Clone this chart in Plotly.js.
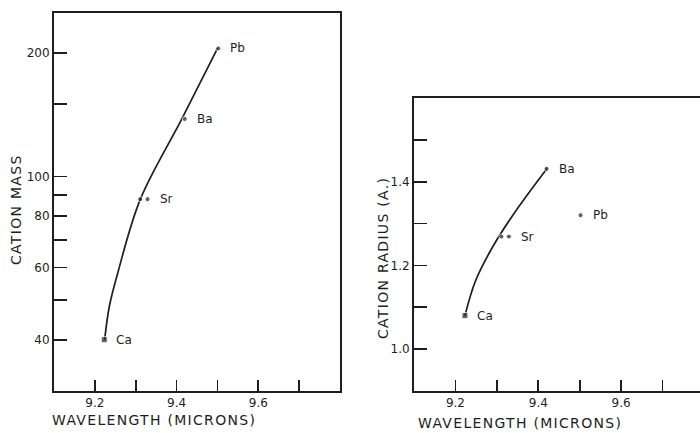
<!DOCTYPE html>
<html>
<head>
<meta charset="utf-8">
<script src="https://cdn.plot.ly/plotly-3.0.1.min.js"></script>
<style>
  html, body { margin: 0; padding: 0; overflow: hidden; background: #fff; }
</style>
</head>
<body>
<div id="chart"></div>
<script>
// ---- data ----
const elements      = ['Ca', '', 'Sr', 'Ba', 'Pb'];
const wavelength    = [9.223, 9.311, 9.329, 9.420, 9.502];
const cationMass    = [40, 88, 88, 138, 205];
const cationRadius  = [1.08, 1.269, 1.269, 1.431, 1.32];

// smooth curves as traced on the figure
const massCurveX   = [9.224, 9.2354, 9.2559, 9.3114, 9.4129, 9.5002];
const massCurveY   = [40, 48.2, 58.1, 88, 138, 205];
const radiusCurveX = [9.223, 9.2479, 9.2883, 9.3394, 9.4207];
const radiusCurveY = [1.08, 1.1617, 1.2416, 1.3213, 1.431];

// ticks
const xTickVals    = [9.2, 9.3, 9.4, 9.5, 9.6, 9.7];
const xTickText    = ['9.2', '', '9.4', '', '9.6', ''];
const massTickVals = [40, 50, 60, 70, 80, 90, 100, 150, 200];
const massTickText = ['40', '', '60', '', '80', '', '100', '', '200'];
const radTickVals  = [1.0, 1.1, 1.2, 1.3, 1.4, 1.5];
const radTickText  = ['1.0', '', '1.2', '', '1.4', ''];

// ---- layout helpers ----
const W = 704, H = 433;
const ink = '#1e1e1e';
const font = 'DejaVu Sans, Liberation Sans, sans-serif';
const px = x => x / W;
const py = y => 1 - y / H;
const spaced = s => '<span style="letter-spacing:1.3px">' + s + '</span>';

const markerSymbols = elements.map((e, i) => i === 0 ? 'square' : 'circle');
const markerSizes   = elements.map((e, i) => i === 0 ? 6 : 5);

const traces = [
  { x: massCurveX, y: massCurveY, xaxis: 'x', yaxis: 'y', mode: 'lines',
    line: { color: ink, width: 1.7, shape: 'spline', smoothing: 1 }, hoverinfo: 'skip' },
  { x: wavelength, y: cationMass, xaxis: 'x', yaxis: 'y', mode: 'markers',
    marker: { color: ink, size: markerSizes, symbol: markerSymbols } },
  { x: radiusCurveX, y: radiusCurveY, xaxis: 'x2', yaxis: 'y2', mode: 'lines',
    line: { color: ink, width: 1.7, shape: 'spline', smoothing: 1 }, hoverinfo: 'skip' },
  { x: wavelength, y: cationRadius, xaxis: 'x2', yaxis: 'y2', mode: 'markers',
    marker: { color: ink, size: markerSizes, symbol: markerSymbols } }
];

const axisCommon = {
  showline: true, mirror: true, linecolor: ink, linewidth: 2,
  ticks: 'inside', tickcolor: ink, tickwidth: 1.6,
  showgrid: false, zeroline: false,
  tickfont: { family: font, size: 12, color: ink }
};

const annotations = [];
const labelFont = { family: font, size: 12, color: ink };
elements.forEach((e, i) => {
  if (!e) return;
  annotations.push({ xref: 'x', yref: 'y', x: wavelength[i], y: Math.log10(cationMass[i]),
    text: e, showarrow: false, xanchor: 'left', yanchor: 'middle', xshift: 10, font: labelFont });
  annotations.push({ xref: 'x2', yref: 'y2', x: wavelength[i], y: cationRadius[i],
    text: e, showarrow: false, xanchor: 'left', yanchor: 'middle', xshift: 10, font: labelFont });
});
const titleFont = { family: font, size: 14, color: ink };
const title = (x, y, text, angle) => ({ xref: 'paper', yref: 'paper', x: px(x), y: py(y),
  text: spaced(text), textangle: angle, showarrow: false, xanchor: 'center', yanchor: 'middle',
  font: titleFont });
annotations.push(
  title(16, 210, 'CATION MASS', -90),
  title(154, 420, 'WAVELENGTH (MICRONS)', 0),
  title(383, 258, 'CATION RADIUS (A.)', -90),
  title(520, 423, 'WAVELENGTH (MICRONS)', 0)
);

const layout = {
  width: W, height: H,
  margin: { l: 0, r: 0, t: 0, b: 0 },
  paper_bgcolor: '#fff', plot_bgcolor: '#fff',
  showlegend: false,
  xaxis: Object.assign({}, axisCommon, {
    domain: [px(54), px(340)], range: [9.1, 9.8], anchor: 'y',
    tickvals: xTickVals, ticktext: xTickText, ticklen: 11
  }),
  yaxis: Object.assign({}, axisCommon, {
    domain: [py(391), py(13)], type: 'log', range: [Math.log10(30), Math.log10(250)], anchor: 'x',
    tickvals: massTickVals, ticktext: massTickText, ticklen: 13
  }),
  xaxis2: Object.assign({}, axisCommon, {
    domain: [px(414), 1], range: [9.1, 9.8], anchor: 'y2',
    tickvals: xTickVals, ticktext: xTickText, ticklen: 11
  }),
  yaxis2: Object.assign({}, axisCommon, {
    domain: [py(391), py(98)], range: [0.9, 1.6], anchor: 'x2',
    tickvals: radTickVals, ticktext: radTickText, ticklen: 13
  }),
  annotations: annotations
};

Plotly.newPlot('chart', traces, layout, { staticPlot: true, displayModeBar: false });
</script>
</body>
</html>
